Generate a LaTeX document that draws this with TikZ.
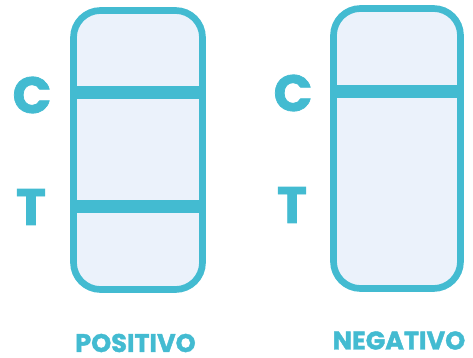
\documentclass[tikz,border=0pt]{standalone}
\usepackage{fontspec}
\setmainfont{Poppins}[BoldFeatures={FakeBold=1.5}]
\usepackage{xcolor}
\definecolor{stripblue}{HTML}{43BBD1}
\definecolor{stripfill}{HTML}{EBF2FB}

\begin{document}
\begin{tikzpicture}[
    x=1pt, y=-1pt,
    every node/.style={text=stripblue, font=\bfseries},
    strip/.style={draw=stripblue, fill=stripfill, line width=6.7pt, rounded corners=27pt, minimum width=129pt, minimum height=279pt, inner sep=0pt},
    band/.style={draw=stripblue, line width=13pt},
    letter/.style={font=\fontsize{51}{51}\selectfont\bfseries},
    result/.style={font=\fontsize{25.5}{25.5}\selectfont\bfseries, inner sep=0pt}
]
\useasboundingbox (0,0) rectangle (473,358);
\node[strip] (pos) at (138,150) {};
\node[strip, minimum width=127pt, minimum height=280pt] (neg) at (397,148.5) {};
\draw[band] (pos.west |- 0,92.5) -- (pos.east |- 0,92.5);
\draw[band] (pos.west |- 0,206.5) -- (pos.east |- 0,206.5);
\draw[band] (neg.west |- 0,92) -- (neg.east |- 0,92);
\node[letter] (posC) at (32,95) {C};
\node[letter] (posT) at (31,207) {T};
\node[letter] (negC) at (293,93) {C};
\node[letter] (negT) at (292,205) {T};
\node[result] (posLabel) at (135.5,343) {POSITIVO};
\node[result] (negLabel) at (399,340.5) {NEGATIVO};
\end{tikzpicture}
\end{document}
